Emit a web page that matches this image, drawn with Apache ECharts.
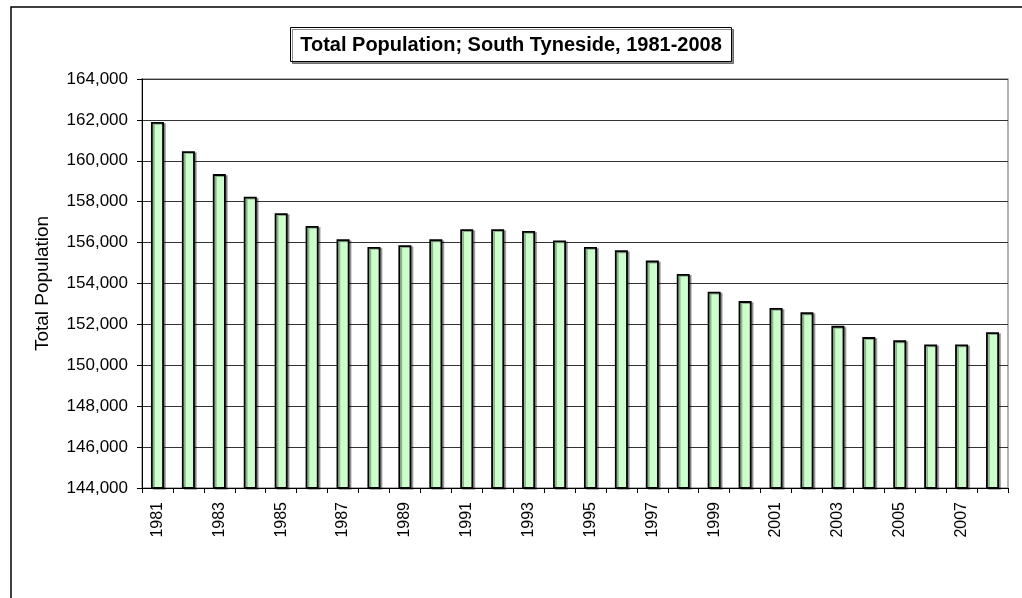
<!DOCTYPE html>
<html>
<head>
<meta charset="utf-8">
<script src="https://cdn.jsdelivr.net/npm/echarts@6/dist/echarts.min.js"></script>
<style>html,body{margin:0;padding:0;background:#fff;}#c{width:1022px;height:598px;}</style>
</head>
<body>
<div id="c"></div>
<script>
const years = ['1981','1982','1983','1984','1985','1986','1987','1988','1989','1990','1991','1992','1993','1994','1995','1996','1997','1998','1999','2000','2001','2002','2003','2004','2005','2006','2007','2008'];
const population = [161900,160470,159350,158240,157440,156810,156160,155790,155870,156160,156650,156650,156570,156100,155790,155620,155120,154470,153600,153140,152800,152590,151930,151380,151220,151020,151020,151620];
const titleText = 'Total Population; South Tyneside, 1981-2008';
const yAxisName = 'Total Population';
const yMin = 144000, yMax = 164000, yStep = 2000;

const font = '"Liberation Sans", Arial, sans-serif';
const chart = echarts.init(document.getElementById('c'), null, {renderer: 'canvas'});
chart.setOption({
  animation: false,
  backgroundColor: '#fff',
  graphic: [{
    type: 'rect', shape: {x: 11, y: 7, width: 1100, height: 700},
    style: {fill: 'none', stroke: '#000', lineWidth: 1.5}, silent: true, z: -1
  }],
  title: {
    text: titleText,
    left: 'center', top: 27,
    padding: [7, 10, 6, 10],
    borderColor: '#000', borderWidth: 1,
    backgroundColor: '#fff',
    shadowColor: 'rgba(0,0,0,0.45)', shadowOffsetX: 2, shadowOffsetY: 2, shadowBlur: 0,
    textStyle: {fontFamily: font, fontWeight: 'bold', fontSize: 20, lineHeight: 22, color: '#000'}
  },
  grid: {
    left: 142, right: 14, top: 79, bottom: 110,
    show: true, borderColor: '#999', borderWidth: 1.5, backgroundColor: '#fff'
  },
  xAxis: {
    type: 'category', data: years,
    axisLine: {lineStyle: {color: '#000', width: 1}},
    axisTick: {show: true, length: 5, alignWithLabel: false, interval: 0, lineStyle: {color: '#000'}},
    axisLabel: {interval: 1, rotate: 90, margin: 14, fontFamily: font, fontSize: 16, color: '#000'},
    splitLine: {show: false}
  },
  yAxis: {
    type: 'value', min: yMin, max: yMax, interval: yStep,
    name: yAxisName, nameLocation: 'middle', nameGap: 90, nameRotate: 90,
    nameTextStyle: {fontFamily: font, fontSize: 19, color: '#000'},
    axisLine: {show: true, lineStyle: {color: '#000', width: 1}},
    axisTick: {show: true, length: 5, lineStyle: {color: '#000'}},
    axisLabel: {margin: 14, fontFamily: font, fontSize: 17, color: '#000',
      formatter: v => v.toLocaleString('en-US')},
    splitLine: {show: true, lineStyle: {color: '#333', width: 1}}
  },
  series: [{
    type: 'bar', data: population, barWidth: 13,
    itemStyle: {color: '#ccffcc', borderColor: '#000', borderWidth: 1.8,
      shadowColor: 'rgba(0,0,0,0.3)', shadowOffsetX: 2, shadowOffsetY: 1, shadowBlur: 0}
  }]
});
</script>
</body>
</html>
